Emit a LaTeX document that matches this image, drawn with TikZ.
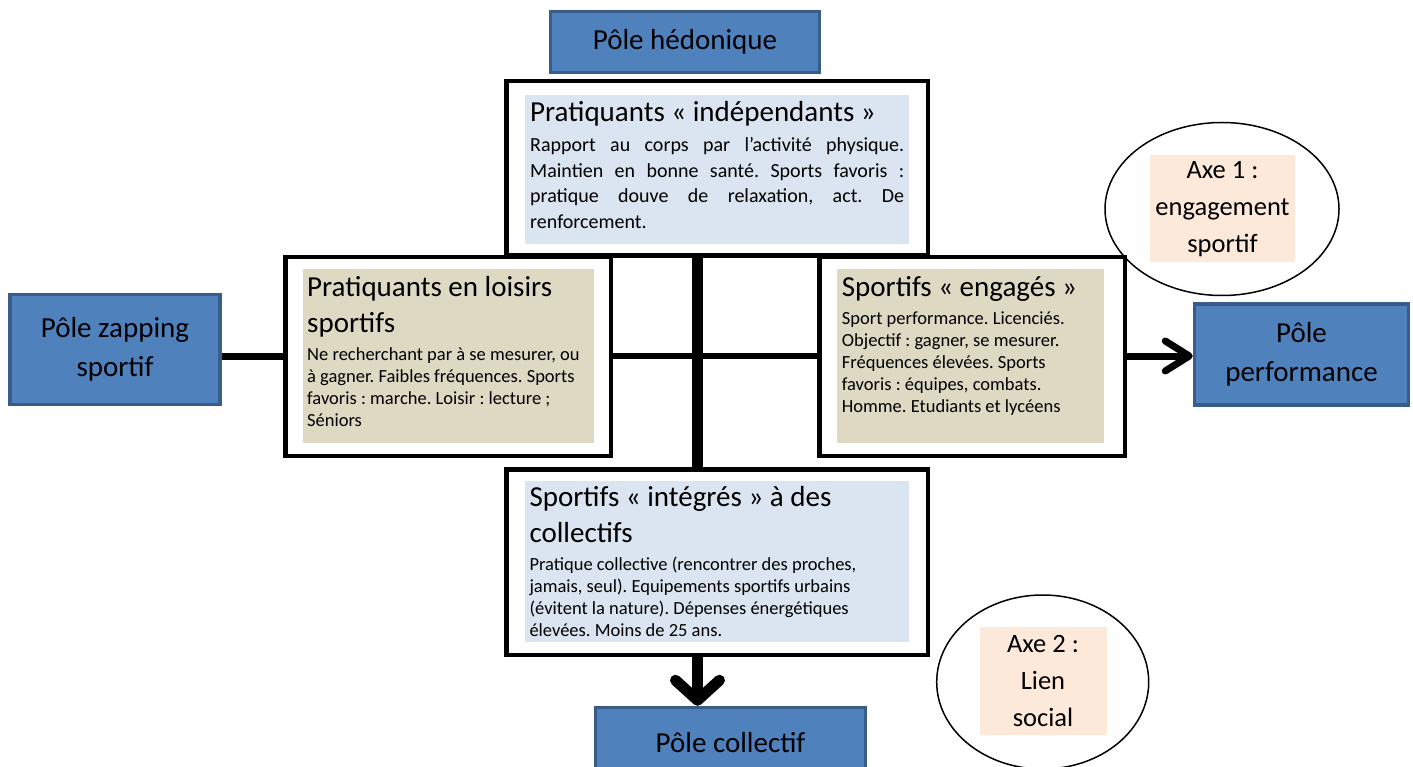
\documentclass[tikz,border=0pt]{standalone}
\usepackage{fontspec}
\setmainfont{Carlito}
\frenchspacing
\usetikzlibrary{shapes.geometric,arrows.meta}
\definecolor{polefill}{HTML}{4F81BD}
\definecolor{poleline}{HTML}{385D8A}
\definecolor{bleuclair}{HTML}{DBE5F1}
\definecolor{beige}{HTML}{DDD9C3}
\definecolor{peche}{HTML}{FDE9D9}

\begin{document}
\begin{tikzpicture}[x=1pt,y=-1pt,
    pole/.style={draw=poleline, line width=3.5pt, fill=polefill, align=center, inner sep=0pt,
        font=\fontsize{29}{39}\selectfont},
    cadre/.style={draw=black, line width=4.5pt, fill=white, inner sep=0pt},
    fond/.style={inner sep=0pt},
    titre/.style={anchor=base west, inner sep=0pt, align=flush left, font=\fontsize{29}{35.5}\selectfont},
    corps/.style={anchor=base west, inner sep=0pt, align=flush left, font=\fontsize{18.5}{22}\selectfont},
    anneau/.style={ellipse, draw=black, line width=1.5pt, inner sep=0pt},
    axe/.style={fill=peche, align=center, inner sep=0pt, font=\fontsize{26.5}{37}\selectfont},
    lien/.style={draw=black, line width=7pt},
    fleche/.style={draw=black, -{Straight Barb[length=20pt, width=44pt, round]}}
]
    \useasboundingbox (0,0) rectangle (1413,767);

    \node[pole, minimum width=269pt, minimum height=61pt] (hedo) at (685, 42) {Pôle hédonique};
    \node[pole, minimum width=210pt, minimum height=110pt] (zap) at (115, 349.5) {Pôle zapping\\sportif};
    \node[pole, minimum width=214pt, minimum height=101pt] (perf) at (1301.5, 354.7) {Pôle\\performance};
    \node[pole, minimum width=270pt, minimum height=70pt] (coll) at (730.5, 742.5) {Pôle collectif};

    \node[cadre, minimum width=421.5pt, minimum height=174.5pt] (indep) at (717, 168.5) {};
    \node[cadre, minimum width=325.5pt, minimum height=198.5pt] (loisir) at (448, 356.5) {};
    \node[cadre, minimum width=305.5pt, minimum height=198.5pt] (engag) at (972, 356.5) {};
    \node[cadre, minimum width=421.5pt, minimum height=185.5pt] (integ) at (717, 562) {};

    \node[fond, fill=bleuclair, minimum width=384pt, minimum height=149pt] (indepbg) at (717, 169.5) {};
    \node[fond, fill=beige, minimum width=291pt, minimum height=174pt] (loisirbg) at (448.3, 356) {};
    \node[fond, fill=beige, minimum width=267pt, minimum height=174pt] (engagbg) at (970.3, 356) {};
    \node[fond, fill=bleuclair, minimum width=384pt, minimum height=161pt] (integbg) at (717, 561.2) {};

    \node[titre, text width=374pt] (indeptitre) at (530, 122) {Pratiquants « indépendants »};
    \node[corps, text width=374pt, align=justify, font=\fontsize{20}{25.5}\selectfont] (indepcorps) at (530, 152)
        {Rapport au corps par l’activité physique.\linebreak Maintien en bonne santé. Sports favoris :\linebreak pratique douve de relaxation, act. De\linebreak renforcement.};

    \node[titre, text width=290pt] (loisirtitre) at (307, 296.7) {Pratiquants en loisirs\\sportifs};
    \node[corps, text width=290pt] (loisircorps) at (307, 360)
        {Ne recherchant par à se mesurer, ou\\à gagner. Faibles fréquences. Sports\\favoris : marche. Loisir : lecture ;\\Séniors};

    \node[titre, text width=262pt] (engagtitre) at (841.7, 296) {Sportifs « engagés »};
    \node[corps, text width=262pt] (engagcorps) at (841.7, 324)
        {Sport performance. Licenciés.\\Objectif : gagner, se mesurer.\\Fréquences élevées. Sports\\favoris : équipes, combats.\\Homme. Etudiants et lycéens};

    \node[titre, text width=380pt] (integtitre) at (529.3, 506.7) {Sportifs « intégrés » à des\\collectifs};
    \node[corps, text width=380pt] (integcorps) at (529.3, 570)
        {Pratique collective (rencontrer des proches,\\jamais, seul). Equipements sportifs urbains\\(évitent la nature). Dépenses énergétiques\\élevées. Moins de 25 ans.};

    \node[anneau, minimum width=234pt, minimum height=173pt] (axeun) at (1222, 209) {};
    \node[axe, minimum width=145pt, minimum height=107pt] (axeuntxt) at (1222.5, 208.8) {Axe 1 :\\engagement\\sportif};
    \node[anneau, minimum width=212pt, minimum height=174pt] (axedeux) at (1042.7, 682) {};
    \node[axe, minimum width=127pt, minimum height=108pt] (axedeuxtxt) at (1043, 681.3) {Axe 2 :\\Lien\\social};

    \coordinate (ligne) at (0, 356);
    \coordinate (colonne) at (697.5, 0);

    \draw[lien] (zap.east |- ligne) -- (loisir.west |- ligne);
    \draw[lien, line width=6pt] (loisir.east |- ligne) -- (engag.west |- ligne);
    \draw[fleche, line width=7pt, -{Straight Barb[length=24pt, width=30pt, round]}] (engag.east |- ligne) -- (perf.west |- ligne);
    \draw[lien, line width=11pt] (indep.south -| colonne) -- (integ.north -| colonne);
    \draw[fleche, line width=11pt] (integ.south -| colonne) -- (coll.north -| colonne);
\end{tikzpicture}
\end{document}
